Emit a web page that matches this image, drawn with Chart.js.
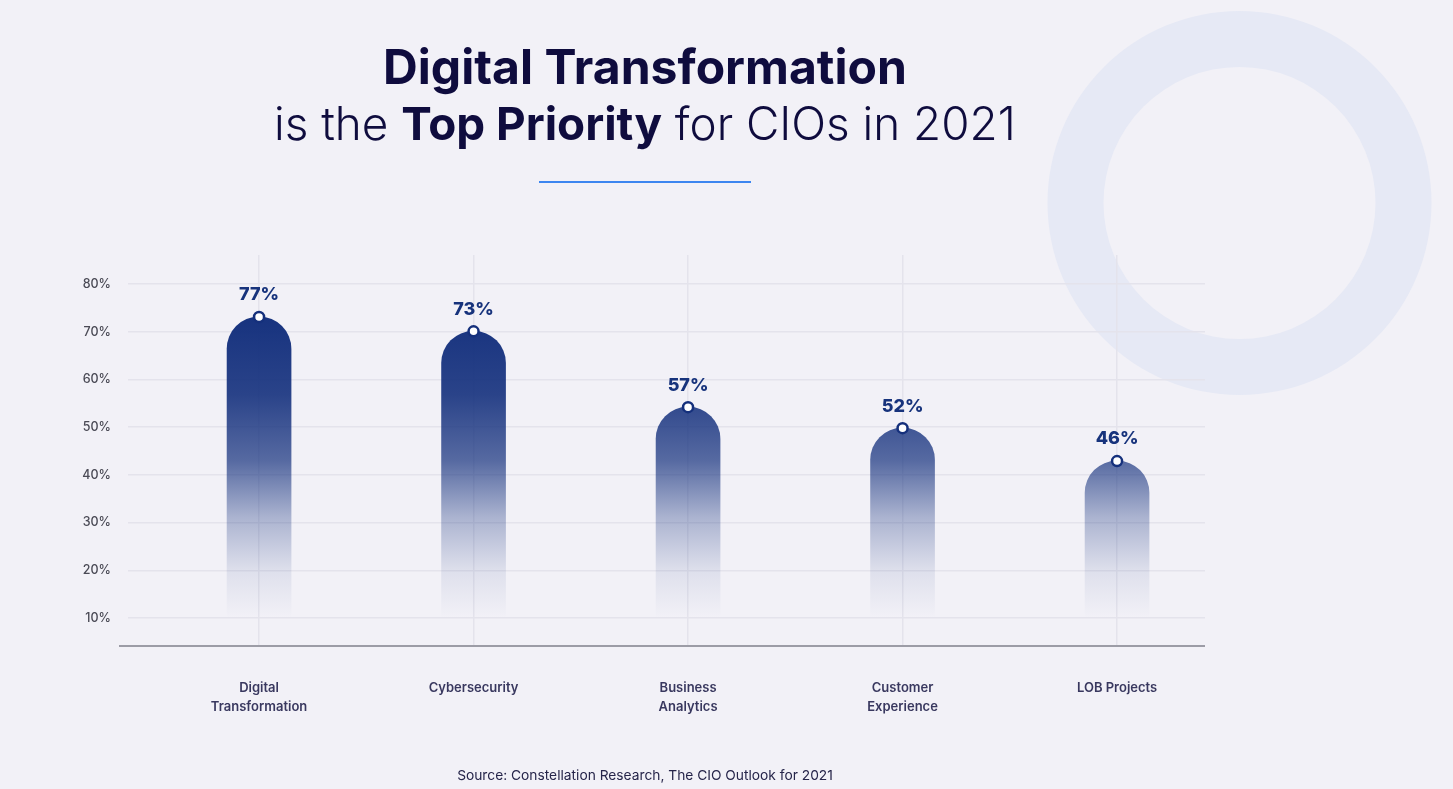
<!DOCTYPE html>
<html lang="en">
<head>
<meta charset="utf-8">
<title>Digital Transformation is the Top Priority for CIOs in 2021</title>
<script src="https://cdn.jsdelivr.net/npm/chart.js@4.4.1/dist/chart.umd.min.js"></script>
<style>
  html, body { margin: 0; padding: 0; background: #f2f1f7; }
  #wrap { width: 1453px; height: 789px; position: relative; }
</style>
</head>
<body>
<div id="wrap"><canvas id="chart"></canvas></div>
<script>
// data
var categories = [["Digital", "Transformation"], "Cybersecurity", ["Business", "Analytics"], ["Customer", "Experience"], "LOB Projects"];
var shownValues = [77, 73, 57, 52, 46];      // percentages printed above the bars
var barHeights = [73.1, 70.1, 54.2, 49.8, 42.9]; // where the bar tops sit on the axis
var yTicks = [10, 20, 30, 40, 50, 60, 70, 80];

var FONT = "Inter, 'Open Sans', sans-serif";
var NAVY = "#0f0c3e";

function fitFont(ctx, weight, text, target, guess) {
  ctx.font = weight + " " + guess + "px " + FONT;
  var w = ctx.measureText(text).width;
  return guess * target / w;
}

var decorPlugin = {
  id: "decor",
  beforeDraw: function (chart) {
    var c = chart.ctx;
    c.save();
    c.fillStyle = "#f2f1f7";
    c.fillRect(0, 0, chart.width, chart.height);
    // background ring
    c.beginPath();
    c.arc(1239.5, 203, 192, 0, Math.PI * 2);
    c.arc(1239.5, 203, 136, 0, Math.PI * 2, true);
    c.fillStyle = "#e6e9f5";
    c.fill();
    c.restore();
  },
  afterDraw: function (chart) {
    var c = chart.ctx;
    c.save();
    c.fillStyle = NAVY;
    c.textBaseline = "alphabetic";
    // title line 1
    var t1 = "Digital Transformation";
    var s1 = fitFont(c, "700", t1, 524, 42);
    c.font = "700 " + s1 + "px " + FONT;
    c.textAlign = "center";
    c.fillText(t1, 645, 84);
    // title line 2, mixed weights
    var parts = [["is the ", "300"], ["Top Priority", "700"], [" for CIOs in 2021", "300"]];
    var size = 42, total = 0, i;
    for (i = 0; i < parts.length; i++) {
      c.font = parts[i][1] + " " + size + "px " + FONT;
      total += c.measureText(parts[i][0]).width;
    }
    size = size * 742 / total;
    var x = 274;
    c.textAlign = "left";
    for (i = 0; i < parts.length; i++) {
      c.font = parts[i][1] + " " + size + "px " + FONT;
      c.fillText(parts[i][0], x, 140);
      x += c.measureText(parts[i][0]).width;
    }
    // underline
    c.fillStyle = "#3d86f0";
    c.fillRect(539, 181, 212, 2);
    // x axis line
    var yb = chart.scales.y.bottom;
    c.fillStyle = "#9c9ca6";
    c.fillRect(119, yb - 1, chart.chartArea.right - 119, 2);
    // source
    var src = "Source: Constellation Research, The CIO Outlook for 2021";
    var s3 = fitFont(c, "400", src, 376, 13);
    c.font = "400 " + s3 + "px " + FONT;
    c.fillStyle = "#26254a";
    c.textAlign = "center";
    c.fillText(src, 645, 780);
    c.restore();
  },
  afterDatasetsDraw: function (chart) {
    var c = chart.ctx;
    var meta = chart.getDatasetMeta(1);
    c.save();
    c.font = "800 18px " + FONT;
    c.fillStyle = "#17337c";
    c.textAlign = "center";
    c.textBaseline = "middle";
    meta.data.forEach(function (pt, i) {
      c.fillText(shownValues[i] + "%", pt.x, pt.y - 22);
    });
    c.restore();
  }
};

function barFill(context) {
  var chart = context.chart;
  if (!chart.chartArea) return "rgba(20,48,125,1)";
  var y = chart.scales.y;
  var top = y.getPixelForValue(76), bot = y.getPixelForValue(10);
  var g = chart.ctx.createLinearGradient(0, top, 0, bot);
  g.addColorStop(0, "rgba(20,48,125,1)");
  g.addColorStop(0.29, "rgba(20,48,125,0.9)");
  g.addColorStop(0.5, "rgba(20,48,125,0.7)");
  g.addColorStop(0.68, "rgba(20,48,125,0.32)");
  g.addColorStop(0.85, "rgba(20,48,125,0.09)");
  g.addColorStop(1, "rgba(20,48,125,0)");
  return g;
}

var points = categories.map(function (c, i) { return { x: i, y: barHeights[i] }; });

new Chart(document.getElementById("chart"), {
  type: "bar",
  data: {
    datasets: [{
      label: "Share of CIOs",
      data: points,
      backgroundColor: barFill,
      barThickness: 64,
      borderRadius: { topLeft: 32, topRight: 32, bottomLeft: 0, bottomRight: 0 },
      borderSkipped: "bottom",
      order: 2
    }, {
      type: "line",
      label: "tops",
      data: points,
      showLine: false,
      pointRadius: 5,
      pointBorderWidth: 2.5,
      pointBackgroundColor: "#ffffff",
      pointBorderColor: "#15307c",
      order: 1
    }]
  },
  options: {
    responsive: true,
    maintainAspectRatio: false,
    animation: false,
    layout: { padding: { left: 0, top: 255, right: 248, bottom: 0 } },
    plugins: { legend: { display: false }, tooltip: { enabled: false } },
    scales: {
      x: {
        type: "linear",
        min: -0.611,
        max: 4.41,
        offset: false,
        afterFit: function (s) { s.height = 143; },
        grid: { color: "#e4e3ec", lineWidth: 1.5, drawTicks: false, offset: false },
        border: { display: false },
        ticks: {
          stepSize: 1,
          includeBounds: false,
          padding: 32,
          color: "#39385f",
          font: { family: FONT, size: 13, weight: "600", lineHeight: 1.5 },
          callback: function (v) { return categories[v]; }
        }
      },
      y: {
        min: 4.13,
        max: 86.1,
        afterFit: function (s) { s.width = 128; },
        grid: { color: "#e4e3ec", lineWidth: 1.5, drawTicks: false },
        border: { display: false },
        afterBuildTicks: function (s) { s.ticks = yTicks.map(function (v) { return { value: v }; }); },
        ticks: {
          padding: 17,
          color: "#4a4a55",
          font: { family: FONT, size: 12.5, weight: "500" },
          callback: function (v) { return v + "%"; }
        }
      }
    }
  },
  plugins: [decorPlugin]
});
</script>
</body>
</html>
